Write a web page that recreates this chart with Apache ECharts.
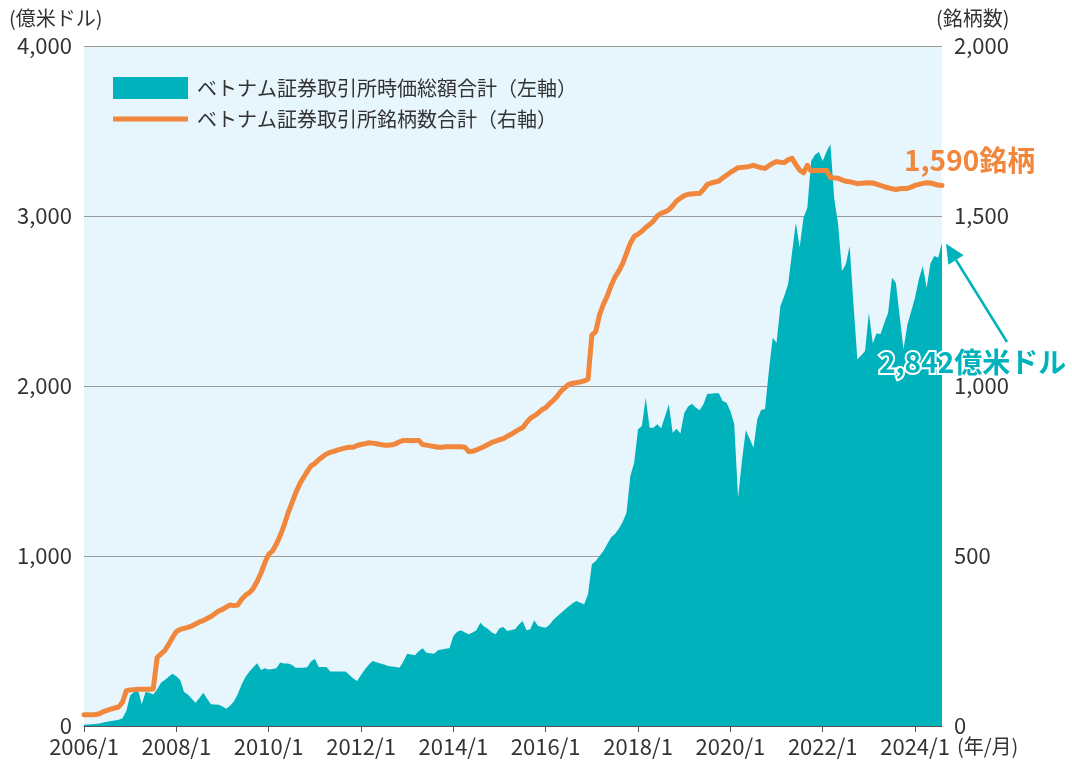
<!DOCTYPE html>
<html>
<head>
<meta charset="utf-8">
<script src="https://cdn.jsdelivr.net/npm/echarts@6/dist/echarts.min.js"></script>
<style>
  html, body { margin: 0; padding: 0; background: #fff; }
  #chart { width: 1072px; height: 763px; }
</style>
</head>
<body>
<div id="chart"></div>
<script>
// 月次データ 2006/1 〜 2024/8
const startYear = 2006
const monthCount = 224
const months = []
for (let i = 0; i < monthCount; i++) {
  months.push((startYear + Math.floor(i / 12)) + '/' + (i % 12 + 1))
}

// ベトナム証券取引所時価総額合計（億米ドル, 左軸）
const marketCap = [
  8, 9, 10, 12, 15, 20, 25, 30, 33, 37,
  45, 88, 180, 200, 215, 128, 200, 195, 186, 215,
  255, 270, 290, 308, 292, 270, 200, 186, 160, 137,
  165, 196, 160, 128, 127, 125, 115, 102, 120, 145,
  190, 245, 290, 320, 345, 369, 329, 339, 333, 335,
  339, 373, 367, 367, 360, 343, 343, 343, 345, 380,
  396, 347, 347, 347, 320, 320, 320, 320, 320, 300,
  280, 265, 300, 333, 360, 382, 375, 368, 362, 353,
  350, 347, 343, 380, 425, 420, 416, 440, 457, 431,
  428, 425, 445, 450, 455, 457, 529, 555, 563, 550,
  539, 550, 563, 608, 585, 570, 550, 539, 575, 582,
  559, 565, 569, 595, 618, 563, 569, 622, 588, 582,
  578, 595, 625, 645, 665, 686, 705, 722, 735, 725,
  716, 775, 951, 971, 1000, 1030, 1070, 1110, 1130, 1160,
  1200, 1255, 1471, 1549, 1745, 1765, 1931, 1755, 1755, 1775,
  1751, 1820, 1892, 1725, 1749, 1720, 1840, 1880, 1896, 1873,
  1857, 1892, 1955, 1955, 1957, 1957, 1912, 1902, 1853, 1775,
  1343, 1559, 1739, 1690, 1637, 1804, 1859, 1865, 2088, 2284,
  2255, 2471, 2530, 2598, 2780, 2961, 2814, 2990, 3049, 3324,
  3360, 3376, 3324, 3380, 3422, 3100, 2951, 2676, 2716, 2824,
  2480, 2157, 2180, 2206, 2431, 2250, 2310, 2304, 2370, 2431,
  2637, 2608, 2410, 2216, 2360, 2440, 2520, 2630, 2706, 2578,
  2720, 2765, 2755, 2842
]

// ベトナム証券取引所銘柄数合計（右軸）
const listedCount = [
  33, 33, 33, 34, 36, 42, 46, 50, 53, 56,
  70, 104, 106, 107, 108, 108, 108, 108, 109, 201,
  212, 222, 240, 260, 278, 284, 287, 290, 294, 300,
  306, 310, 316, 322, 330, 338, 343, 350, 356, 354,
  356, 373, 385, 392, 405, 425, 450, 480, 505, 515,
  535, 560, 590, 625, 655, 685, 710, 730, 748, 765,
  772, 783, 792, 800, 805, 808, 812, 815, 818, 820,
  820, 825, 828, 830, 833, 832, 830, 828, 826, 826,
  827, 830, 836, 840, 840, 839, 840, 840, 828, 826,
  824, 822, 820, 820, 821, 821, 821, 821, 821, 820,
  807, 808, 812, 817, 822, 828, 834, 838, 842, 845,
  852, 858, 865, 872, 877, 892, 905, 912, 920, 930,
  936, 948, 958, 970, 985, 995, 1005, 1008, 1010, 1012,
  1015, 1020, 1150, 1160, 1210, 1240, 1265, 1295, 1320, 1338,
  1360, 1390, 1420, 1440, 1447, 1455, 1466, 1475, 1485, 1500,
  1508, 1512, 1518, 1530, 1544, 1552, 1560, 1564, 1565, 1566,
  1566, 1578, 1593, 1597, 1600, 1603, 1612, 1620, 1628, 1635,
  1642, 1643, 1644, 1646, 1649, 1645, 1642, 1640, 1648, 1655,
  1660, 1658, 1657, 1665, 1670, 1652, 1635, 1627, 1649, 1632,
  1634, 1634, 1634, 1634, 1613, 1612, 1611, 1606, 1602, 1601,
  1598, 1595, 1596, 1597, 1598, 1597, 1594, 1590, 1586, 1583,
  1580, 1578, 1580, 1581, 1581, 1585, 1590, 1593, 1596, 1598,
  1597, 1594, 1591, 1590
]

const seriesNames = ['ベトナム証券取引所時価総額合計（左軸）', 'ベトナム証券取引所銘柄数合計（右軸）']

const FONT = '"Noto Sans CJK JP", "Noto Sans", sans-serif'
const TEAL = '#00b2bc'
const ORANGE = '#f0873c'
const fmt = v => Number(v).toLocaleString('en-US')

const chart = echarts.init(document.getElementById('chart'), null, { renderer: 'canvas' })

const option = {
  animation: false,
  textStyle: { fontFamily: FONT },
  grid: {
    left: 84, right: 130, top: 46, bottom: 37,
    show: true, backgroundColor: '#e7f5fc', borderWidth: 0
  },
  legend: {
    orient: 'vertical',
    left: 108, top: 72,
    itemWidth: 75, itemHeight: 22, itemGap: 10,
    symbolKeepAspect: true,
    textStyle: { fontSize: 20, color: '#333', fontFamily: FONT, padding: [0, 0, 0, 4] },
    data: [
      { name: seriesNames[0], icon: 'rect' },
      { name: seriesNames[1], icon: 'path://M0,0H75V5H0Z' }
    ]
  },
  xAxis: {
    type: 'category',
    data: months,
    boundaryGap: false,
    axisLine: { lineStyle: { color: '#555', width: 1 } },
    axisTick: { interval: 23, length: 6, lineStyle: { color: '#555' } },
    axisLabel: { interval: 23, fontSize: 22, color: '#333', margin: 10, fontFamily: FONT },
    splitLine: { show: false }
  },
  yAxis: [
    {
      type: 'value', min: 0, max: 4000, interval: 1000,
      axisLine: { show: false }, axisTick: { show: false },
      axisLabel: { fontSize: 22, color: '#333', margin: 12, formatter: fmt, fontFamily: FONT },
      splitLine: { lineStyle: { color: '#9a9a9a', width: 1 } }
    },
    {
      type: 'value', min: 0, max: 2000, interval: 500,
      axisLine: { show: false }, axisTick: { show: false },
      axisLabel: { fontSize: 22, color: '#333', margin: 12, formatter: fmt, fontFamily: FONT },
      splitLine: { show: false }
    }
  ],
  series: [
    {
      name: seriesNames[0],
      type: 'line',
      yAxisIndex: 0,
      data: marketCap,
      symbol: 'none',
      color: TEAL,
      lineStyle: { width: 0, color: TEAL },
      areaStyle: { color: TEAL, opacity: 1 },
      z: 2
    },
    {
      name: seriesNames[1],
      type: 'line',
      yAxisIndex: 1,
      data: listedCount,
      symbol: 'none',
      color: ORANGE,
      lineStyle: { width: 5, color: ORANGE, join: 'round', cap: 'round' },
      z: 3
    }
  ]
}

chart.setOption(option)

// 注記（最終値の矢印とラベル）
const last = marketCap.length - 1
const p = chart.convertToPixel({ seriesIndex: 0 }, [last, marketCap[last]])
const tip = [p[0] + 4, p[1] + 1]
const tail = [1007, 342]
const dx = tip[0] - tail[0], dy = tip[1] - tail[1]
const len = Math.sqrt(dx * dx + dy * dy)
const ux = dx / len, uy = dy / len
const headLen = 19, headHalf = 9
const base = [tip[0] - ux * headLen, tip[1] - uy * headLen]

chart.setOption({
  graphic: [
    { type: 'text', left: 9, top: 8, style: { text: '(億米ドル)', font: '20px ' + FONT, fill: '#333' } },
    { type: 'text', left: 936, top: 8, style: { text: '(銘柄数)', font: '20px ' + FONT, fill: '#333' } },
    { type: 'text', left: 957, top: 736, style: { text: '(年/月)', font: '20px ' + FONT, fill: '#333' } },
    {
      type: 'line', z: 100,
      shape: { x1: tail[0], y1: tail[1], x2: base[0], y2: base[1] },
      style: { stroke: TEAL, lineWidth: 2.5 }
    },
    {
      type: 'polygon', z: 100,
      shape: {
        points: [
          tip,
          [base[0] - uy * headHalf, base[1] + ux * headHalf],
          [base[0] + uy * headHalf, base[1] - ux * headHalf]
        ]
      },
      style: { fill: TEAL }
    },
    {
      type: 'text', z: 101,
      style: {
        x: 904, y: 160, text: fmt(listedCount[last]) + '銘柄',
        font: 'bold 28px ' + FONT, fill: ORANGE,
        textVerticalAlign: 'middle'
      }
    },
    {
      type: 'text', z: 101,
      style: {
        x: 879, y: 362, text: fmt(marketCap[last]) + '億米ドル',
        font: 'bold 28px ' + FONT, fill: TEAL,
        stroke: '#fff', lineWidth: 4,
        textVerticalAlign: 'middle'
      }
    }
  ]
})

window.addEventListener('resize', () => chart.resize())
</script>
</body>
</html>
